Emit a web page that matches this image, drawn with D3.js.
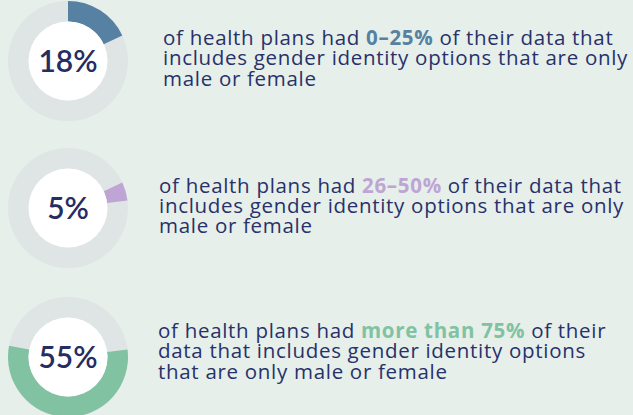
<!DOCTYPE html>
<html><head><meta charset="utf-8">
<script src="https://cdn.jsdelivr.net/npm/d3@7"></script>
<style>
html,body{margin:0;padding:0;background:#e6efea;}
svg{display:block;}
</style></head>
<body>
<svg id="chart" width="633" height="415"></svg>
<script>
// ---- data ----
const categories = ["0–25%", "26–50%", "more than 75%"];
const shares = [18, 5, 55];               // percent of health plans
const arcStarts = [0, 18, 23];            // where each arc begins on the 0–100 ring
const valueLabels = ["18%", "5%", "55%"];
const colors = ["#5781a3", "#bea5d4", "#80c2a1"];
const sentences = [
  [["of health plans had ", "0–25%", " of their data that"], ["includes gender identity options that are only"], ["male or female"]],
  [["of health plans had ", "26–50%", " of their data that"], ["includes gender identity options that are only"], ["male or female"]],
  [["of health plans had ", "more than 75%", " of their"], ["data that includes gender identity options"], ["that are only male or female"]]
];

// ---- layout ----
const svg = d3.select("#chart");
const W = 633, H = 415;
svg.append("rect").attr("width", W).attr("height", H).attr("fill", "#e6efea");

const centersY = [61, 208, 357];
const cx = 68, rOuter = 60, rInner = 39.5;
const textX = [163, 159, 158];
const baseY = [45, 192.5, 338];
const lineH = 20.3;

const angle = d3.scaleLinear().domain([0, 100]).range([0, 2 * Math.PI]);
const arc = d3.arc().innerRadius(rInner).outerRadius(rOuter);
const navy = "#28316a";

shares.forEach((v, i) => {
  const g = svg.append("g").attr("transform", `translate(${cx},${centersY[i]})`);
  g.append("path").attr("d", arc({startAngle: 0, endAngle: 2 * Math.PI})).attr("fill", "#dfe5e5");
  g.append("path")
    .attr("d", arc({startAngle: angle(arcStarts[i]), endAngle: angle(arcStarts[i] + v)}))
    .attr("fill", colors[i]);
  g.append("circle").attr("r", rInner).attr("fill", "#ffffff");
  g.append("text").text(valueLabels[i])
    .attr("text-anchor", "middle").attr("y", 11)
    .attr("font-family", "Lato, 'Open Sans', sans-serif")
    .attr("font-weight", 600).attr("font-size", 30)
    .attr("fill", "#252d62");

  const t = svg.append("text")
    .attr("font-family", "'Open Sans', sans-serif")
    .attr("font-size", 20.5).attr("letter-spacing", 0.7).attr("fill", navy);
  sentences[i].forEach((line, li) => {
    line.forEach((seg, si) => {
      const ts = t.append("tspan").text(seg);
      if (si === 0) ts.attr("x", textX[i]).attr("y", baseY[i] + li * lineH);
      if (seg === categories[i]) ts.attr("font-weight", 700).attr("fill", colors[i]);
    });
  });
});
</script>
</body></html>
